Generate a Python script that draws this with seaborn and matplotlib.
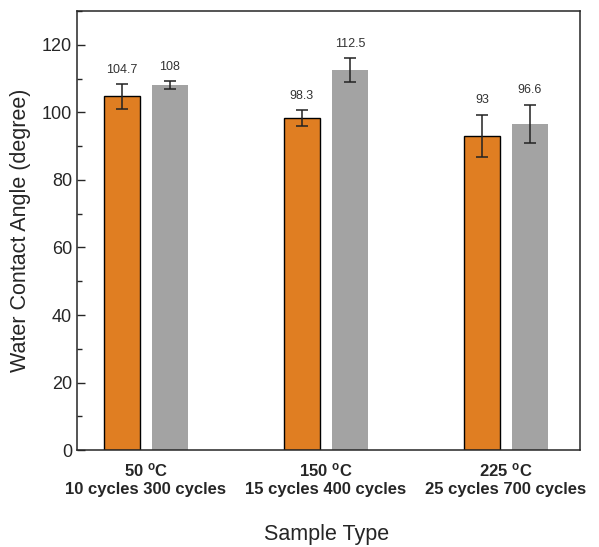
import pandas as pd
import seaborn as sns
import matplotlib.pyplot as plt
from matplotlib.ticker import MultipleLocator

# values
groups = ["50 $\\mathbf{^{o}}$C", "150 $\\mathbf{^{o}}$C", "225 $\\mathbf{^{o}}$C"]
cycle_labels = ["10 cycles 300 cycles", "15 cycles 400 cycles", "25 cycles 700 cycles"]
short_means = [104.7, 98.3, 93.0]
long_means = [108.0, 112.5, 96.6]
short_err = [3.6, 2.4, 6.3]
long_err = [1.2, 3.6, 5.7]

df = pd.DataFrame({
    "group": groups * 2,
    "run": ["short"] * 3 + ["long"] * 3,
    "angle": short_means + long_means,
    "err": short_err + long_err,
})

sns.set_style("ticks")
plt.rcParams["font.family"] = ["Liberation Sans", "DejaVu Sans"]
plt.rcParams["mathtext.fontset"] = "custom"
plt.rcParams["mathtext.rm"] = "Liberation Sans"
plt.rcParams["mathtext.bf"] = "Liberation Sans:bold"

fig = plt.figure(figsize=(5.99, 5.47), dpi=100)
ax = fig.add_axes([0.1285, 0.177, 0.8395, 0.803])

sns.barplot(data=df, x="group", y="angle", hue="run",
            palette={"short": "#E07E22", "long": "#A3A3A3"},
            width=0.533, gap=0.25, errorbar=None, saturation=1,
            legend=False, ax=ax)

# style bars and add error bars + value labels
for i, p in enumerate(ax.patches):
    row = df.iloc[i]
    if row["run"] == "short":
        p.set_edgecolor("black")
        p.set_linewidth(1.0)
    else:
        p.set_edgecolor("none")
    xc = p.get_x() + p.get_width() / 2
    ax.errorbar(xc, row["angle"], yerr=row["err"], fmt="none",
                ecolor="#222222", elinewidth=1.1, capsize=4, capthick=1.1)
    ax.annotate(f"{row['angle']:g}", (xc, row["angle"] + row["err"]),
                xytext=(0, 6), textcoords="offset points",
                ha="center", va="bottom", fontsize=9, color="#333333")

ax.set_ylim(0, 130)
ax.set_xlim(-0.383, 2.411)
ax.yaxis.set_major_locator(MultipleLocator(20))
ax.yaxis.set_minor_locator(MultipleLocator(10))
ax.tick_params(axis="y", which="both", direction="in", labelsize=13)
ax.tick_params(axis="y", which="major", length=6, width=1)
ax.tick_params(axis="y", which="minor", length=3.5, width=1)
ax.tick_params(axis="x", length=0, labelbottom=False)

for s in ax.spines.values():
    s.set_visible(True)
    s.set_linewidth(1.1)

# two line group labels under the axis
for i, (g, c) in enumerate(zip(groups, cycle_labels)):
    ax.text(i, -0.025, g, transform=ax.get_xaxis_transform(),
            ha="center", va="top", fontsize=12, fontweight="bold")
    ax.text(i, -0.072, c, transform=ax.get_xaxis_transform(),
            ha="center", va="top", fontsize=12, fontweight="bold")

ax.set_ylabel("Water Contact Angle (degree)", fontsize=15.5, labelpad=8)
ax.set_xlabel("")
fig.text(0.545, 0.003, "Sample Type", ha="center", va="bottom", fontsize=15.5)

fig.savefig("out.png", dpi=100)
